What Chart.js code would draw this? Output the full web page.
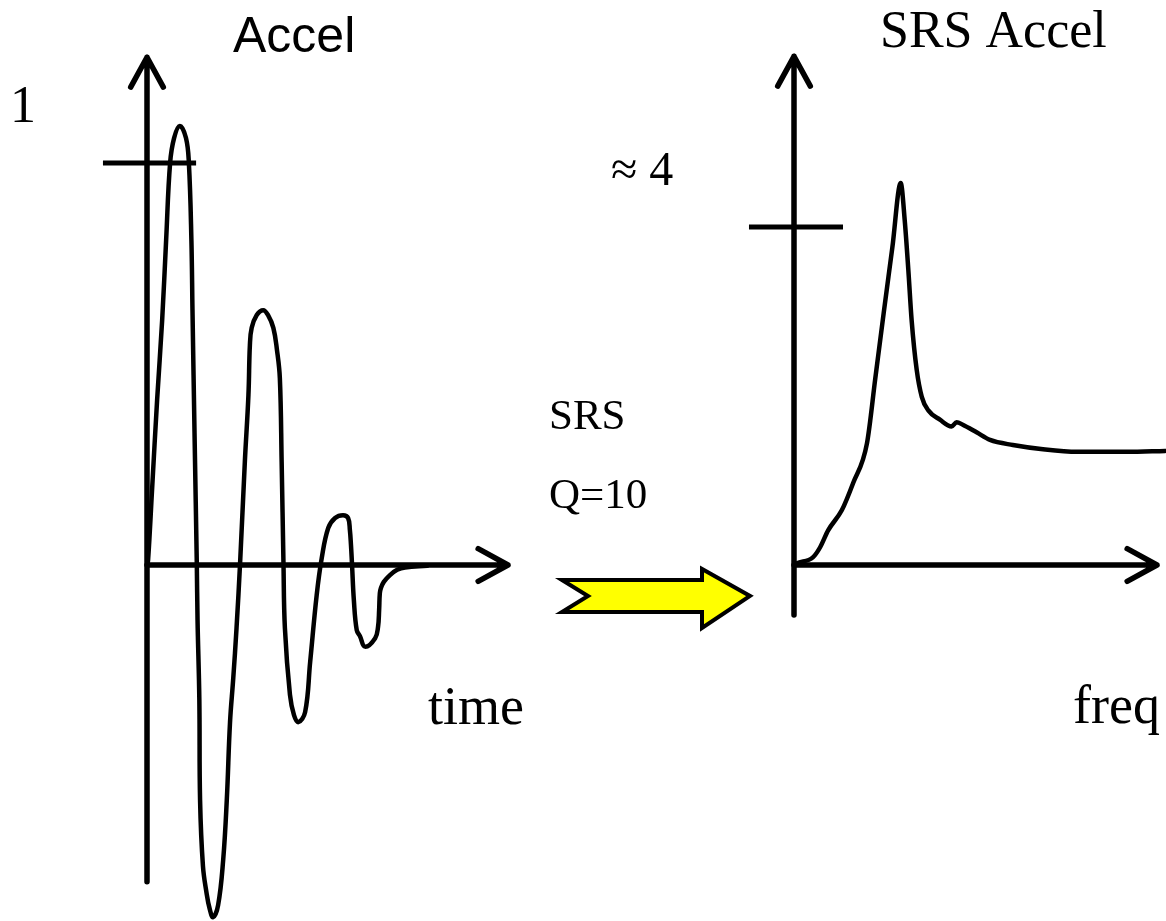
<!DOCTYPE html>
<html>
<head>
<meta charset="utf-8">
<script src="https://cdn.jsdelivr.net/npm/chart.js@4/dist/chart.umd.min.js"></script>
<style>
  html, body { margin: 0; padding: 0; background: #ffffff; }
  #wrap { position: relative; width: 1166px; height: 921px; }
</style>
</head>
<body>
<div id="wrap"><canvas id="srsChart" width="1166" height="921"></canvas></div>
<script>
// Shock pulse time history (normalised accel vs time)
const timeMs = [0, 0.03, 0.14, 0.28, 0.42, 0.53, 0.64, 0.75, 0.91, 1.08, 1.16, 1.23, 1.26, 1.32, 1.38,
  1.40, 1.45, 1.47, 1.55, 1.65, 1.73, 1.83, 1.97, 2.11, 2.21, 2.30, 2.39, 2.48, 2.58, 2.71,
  2.81, 2.85, 2.90, 3.04, 3.22, 3.35, 3.50, 3.60, 3.68, 3.73, 3.78, 3.82, 3.96, 4.07, 4.19,
  4.38, 4.52, 4.70, 4.84, 5.02, 5.21, 5.43, 5.57, 5.62, 5.65, 5.68, 5.73, 5.81, 5.90, 6.04,
  6.32, 6.40, 6.43, 6.45, 6.48, 6.56, 6.73, 6.93, 7.15, 7.76];
const accel = [0, 0.012, 0.187, 0.410, 0.609, 0.808, 1.000, 1.062, 1.092, 1.062, 1.000, 0.808, 0.634, 0.311, 0,
  -0.137, -0.336, -0.585, -0.749, -0.816, -0.853, -0.876, -0.846, -0.734, -0.585, -0.391, -0.281, -0.157, 0.007, 0.256,
  0.423, 0.547, 0.590, 0.622, 0.634, 0.622, 0.590, 0.535, 0.465, 0.256, 0.007, -0.157, -0.323, -0.373, -0.391,
  -0.366, -0.241, -0.075, 0.017, 0.092, 0.117, 0.124, 0.117, 0.087, 0.050, 0, -0.087, -0.162, -0.177, -0.203,
  -0.182, -0.154, -0.112, -0.070, -0.057, -0.042, -0.025, -0.012, -0.006, -0.002];

// Shock response spectrum of that pulse, Q = 10
const freqHz = [0, 0.8, 5.2, 7.2, 9.4, 13.2, 16.3, 20.1, 22.4, 24.7, 27.1, 29.4, 30.5, 31.5, 32.4,
  33.8, 35.2, 37.0, 40.2, 43.4, 44.8, 46.5, 50.3, 54.0, 60.3, 68.6, 78.0, 91.7, 102.2];
const srsAccel = [0, 0.02, 0.09, 0.21, 0.41, 0.65, 0.97, 1.44, 2.21, 2.98, 3.76, 4.52, 4.08, 3.49, 2.90,
  2.31, 1.99, 1.83, 1.72, 1.64, 1.69, 1.66, 1.57, 1.48, 1.42, 1.37, 1.34, 1.34, 1.35];

const accelTicks = [1];
const accelTickLabels = ['1'];
const srsTicks = [4];
const srsTickLabels = ['\u2248 4'];

const W = 1166, H = 921;

// min/max for a scale spanning the whole canvas, given where zero sits and px per unit
function span(origin, perUnit, size, vertical) {
  if (vertical) return { min: -(size - origin) / perUnit, max: origin / perUnit };
  return { min: -origin / perUnit, max: (size - origin) / perUnit };
}

function arrow(ctx, x0, y0, x1, y1) {
  const ang = Math.atan2(y1 - y0, x1 - x0);
  const len = 34, spread = 0.5;
  ctx.beginPath();
  ctx.moveTo(x0, y0);
  ctx.lineTo(x1, y1);
  ctx.moveTo(x1 - len * Math.cos(ang - spread), y1 - len * Math.sin(ang - spread));
  ctx.lineTo(x1, y1);
  ctx.lineTo(x1 - len * Math.cos(ang + spread), y1 - len * Math.sin(ang + spread));
  ctx.stroke();
}

const axesPlugin = {
  id: 'arrowAxes',
  beforeDatasetsDraw(chart) {
    const { ctx, scales } = chart;
    const { t, a, f, s } = scales;
    ctx.save();
    ctx.strokeStyle = '#000';
    ctx.lineWidth = 5.5;
    ctx.lineCap = 'round';
    ctx.lineJoin = 'round';

    // time history axes
    arrow(ctx, t.getPixelForValue(0), a.getPixelForValue(-0.788), t.getPixelForValue(0), a.getPixelForValue(1.263));
    arrow(ctx, t.getPixelForValue(0), a.getPixelForValue(0), t.getPixelForValue(10), a.getPixelForValue(0));
    // spectrum axes
    arrow(ctx, f.getPixelForValue(0), s.getPixelForValue(-0.592), f.getPixelForValue(0), s.getPixelForValue(6.02));
    arrow(ctx, f.getPixelForValue(0), s.getPixelForValue(0), f.getPixelForValue(100), s.getPixelForValue(0));

    ctx.lineCap = 'butt';
    ctx.lineWidth = 5;
    accelTicks.forEach(v => {
      const y = a.getPixelForValue(v);
      ctx.beginPath();
      ctx.moveTo(t.getPixelForValue(-1.22), y);
      ctx.lineTo(t.getPixelForValue(1.36), y);
      ctx.stroke();
    });
    srsTicks.forEach(v => {
      const y = s.getPixelForValue(v);
      ctx.beginPath();
      ctx.moveTo(f.getPixelForValue(-12.4), y);
      ctx.lineTo(f.getPixelForValue(13.5), y);
      ctx.stroke();
    });
    ctx.restore();
  },
  afterDraw(chart) {
    const { ctx } = chart;
    ctx.save();
    ctx.fillStyle = '#000';
    ctx.textBaseline = 'alphabetic';
    ctx.textAlign = 'left';

    ctx.font = '50px "Liberation Sans", Arial, sans-serif';
    ctx.fillText('Accel', 233, 52);

    ctx.font = '52px "Liberation Serif", "Times New Roman", serif';
    ctx.fillText('SRS Accel', 880, 47);
    ctx.fillText(accelTickLabels[0], 10, 122);
    ctx.font = '54px "Liberation Serif", "Times New Roman", serif';
    ctx.fillText('time', 428, 724);
    ctx.fillText('freq', 1073, 723);

    ctx.font = '48px "Liberation Serif", "Times New Roman", serif';
    ctx.fillText(srsTickLabels[0], 611, 185);
    ctx.font = '43px "Liberation Serif", "Times New Roman", serif';
    ctx.fillText('SRS', 549, 429);
    ctx.fillText('Q=10', 549, 508);

    // yellow block arrow between the two plots
    ctx.beginPath();
    ctx.moveTo(562, 580);
    ctx.lineTo(588, 596);
    ctx.lineTo(562, 612);
    ctx.lineTo(702, 612);
    ctx.lineTo(702, 628);
    ctx.lineTo(750, 596);
    ctx.lineTo(702, 569);
    ctx.lineTo(702, 580);
    ctx.closePath();
    ctx.fillStyle = '#ffff00';
    ctx.fill();
    ctx.lineWidth = 4;
    ctx.lineJoin = 'miter';
    ctx.strokeStyle = '#000';
    ctx.stroke();
    ctx.restore();
  }
};

const tSpan = span(147, 36.1, W, false);
const aSpan = span(565, 402, H, true);
const fSpan = span(794, 3.63, W, false);
const sSpan = span(565, 84.5, H, true);

new Chart(document.getElementById('srsChart'), {
  type: 'line',
  data: {
    datasets: [
      {
        label: 'Accel',
        data: timeMs.map((x, i) => ({ x, y: accel[i] })),
        xAxisID: 't',
        yAxisID: 'a',
        borderColor: '#000',
        borderWidth: 4.5,
        pointRadius: 0,
        tension: 0.4,
        borderJoinStyle: 'round',
        borderCapStyle: 'round',
        fill: false
      },
      {
        label: 'SRS Accel',
        data: freqHz.map((x, i) => ({ x, y: srsAccel[i] })),
        xAxisID: 'f',
        yAxisID: 's',
        borderColor: '#000',
        borderWidth: 4.5,
        pointRadius: 0,
        cubicInterpolationMode: 'monotone',
        borderJoinStyle: 'round',
        borderCapStyle: 'round',
        fill: false
      }
    ]
  },
  options: {
    responsive: false,
    animation: false,
    layout: { padding: 0 },
    plugins: {
      legend: { display: false },
      tooltip: { enabled: false },
      title: { display: false }
    },
    scales: {
      t: { type: 'linear', axis: 'x', display: false, min: tSpan.min, max: tSpan.max },
      a: { type: 'linear', axis: 'y', display: false, min: aSpan.min, max: aSpan.max },
      f: { type: 'linear', axis: 'x', display: false, min: fSpan.min, max: fSpan.max },
      s: { type: 'linear', axis: 'y', display: false, min: sSpan.min, max: sSpan.max }
    }
  },
  plugins: [axesPlugin]
});
</script>
</body>
</html>
